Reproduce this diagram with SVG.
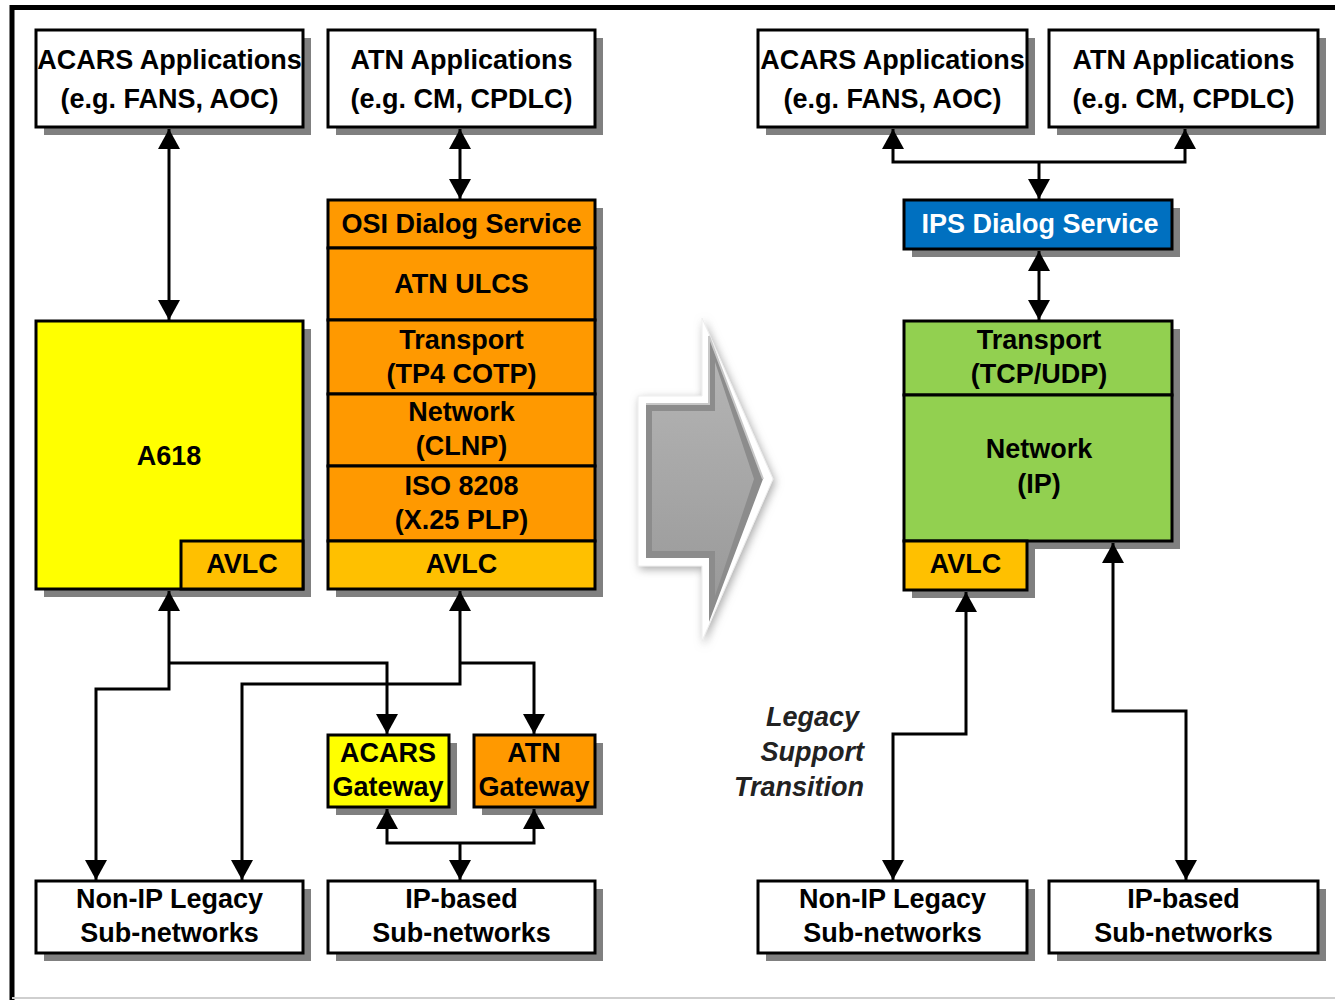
<svg xmlns="http://www.w3.org/2000/svg" width="1335" height="1000" viewBox="0 0 1335 1000">
<defs>
<style>
.sh{fill:#808080}
.bx{stroke:#000;stroke-width:3}
.w{fill:#fff}
.y{fill:#ffff00}
.o{fill:#ff9900}
.a{fill:#ffc000}
.g{fill:#92d050}
.b{fill:#0070c0}
.t{font-family:"Liberation Sans",Arial,sans-serif;font-weight:bold;font-size:27px;text-anchor:middle;fill:#000}
.tw{fill:#fff}
.it{font-family:"Liberation Sans",Arial,sans-serif;font-weight:bold;font-style:italic;font-size:27px;text-anchor:end;fill:#222}
.c{fill:none;stroke:#000;stroke-width:3}
</style>
<marker id="ah" viewBox="0 0 20 22" refX="20" refY="11" markerWidth="20" markerHeight="22" markerUnits="userSpaceOnUse" orient="auto-start-reverse"><path d="M0,0L20,11L0,22z" fill="#000"/></marker>
<filter id="glow" x="-30%" y="-30%" width="160%" height="160%"><feDropShadow dx="2" dy="3" stdDeviation="4" flood-color="#888" flood-opacity="0.7"/></filter>
<linearGradient id="ag" x1="0" y1="0" x2="0" y2="1"><stop offset="0" stop-color="#b4b4b4"/><stop offset="1" stop-color="#9a9a9a"/></linearGradient>
</defs>
<rect width="1335" height="1000" fill="#fff"/>
<path d="M12,1000V7.5H1335" fill="none" stroke="#000" stroke-width="5"/>
<path d="M12,998H1335" fill="none" stroke="#cfcfcf" stroke-width="2"/>

<g id="acars-app-l">
<rect class="sh" x="44" y="38" width="267" height="97"/>
<rect class="bx w" x="36" y="30" width="267" height="97"/>
<text class="t" x="169.5" y="69">ACARS Applications</text>
<text class="t" x="169.5" y="108">(e.g. FANS, AOC)</text>
</g>
<g id="atn-app-l">
<rect class="sh" x="336" y="38" width="267" height="97"/>
<rect class="bx w" x="328" y="30" width="267" height="97"/>
<text class="t" x="461.5" y="69">ATN Applications</text>
<text class="t" x="461.5" y="108">(e.g. CM, CPDLC)</text>
</g>
<g id="a618">
<rect class="sh" x="44" y="329" width="267" height="268"/>
<rect class="bx y" x="36" y="321" width="267" height="268"/>
<text class="t" x="169" y="465">A618</text>
<rect class="bx a" x="181" y="541" width="122" height="48"/>
<text class="t" x="242" y="573">AVLC</text>
</g>
<g id="osi-stack">
<rect class="sh" x="336" y="208" width="267" height="389"/>
<g id="osi-dialog"><rect class="bx o" x="328" y="200" width="267" height="48"/><text class="t" x="461.5" y="233">OSI Dialog Service</text></g>
<g id="atn-ulcs"><rect class="bx o" x="328" y="248" width="267" height="72"/><text class="t" x="461.5" y="293">ATN ULCS</text></g>
<g id="osi-transport"><rect class="bx o" x="328" y="320" width="267" height="74"/><text class="t" x="461.5" y="349">Transport</text><text class="t" x="461.5" y="383">(TP4 COTP)</text></g>
<g id="osi-network"><rect class="bx o" x="328" y="394" width="267" height="72"/><text class="t" x="461.5" y="421">Network</text><text class="t" x="461.5" y="455">(CLNP)</text></g>
<g id="iso8208"><rect class="bx o" x="328" y="466" width="267" height="75"/><text class="t" x="461.5" y="495">ISO 8208</text><text class="t" x="461.5" y="529">(X.25 PLP)</text></g>
<g id="osi-avlc"><rect class="bx a" x="328" y="541" width="267" height="48"/><text class="t" x="461.5" y="573">AVLC</text></g>
</g>
<g id="acars-gw">
<rect class="sh" x="336" y="743" width="121" height="72"/>
<rect class="bx y" x="328" y="735" width="121" height="72"/>
<text class="t" x="388" y="762">ACARS</text>
<text class="t" x="388" y="796">Gateway</text>
</g>
<g id="atn-gw">
<rect class="sh" x="482" y="743" width="121" height="72"/>
<rect class="bx o" x="474" y="735" width="121" height="72"/>
<text class="t" x="534" y="762">ATN</text>
<text class="t" x="534" y="796">Gateway</text>
</g>
<g id="nonip-l">
<rect class="sh" x="44" y="889" width="267" height="72"/>
<rect class="bx w" x="36" y="881" width="267" height="72"/>
<text class="t" x="169.5" y="908">Non-IP Legacy</text>
<text class="t" x="169.5" y="942">Sub-networks</text>
</g>
<g id="ip-l">
<rect class="sh" x="336" y="889" width="267" height="72"/>
<rect class="bx w" x="328" y="881" width="267" height="72"/>
<text class="t" x="461.5" y="908">IP-based</text>
<text class="t" x="461.5" y="942">Sub-networks</text>
</g>

<g id="transition-arrow" filter="url(#glow)">
<polygon points="638,396 702,396 702,318 773,479 702,641 702,566 638,566" fill="#fff" stroke="#eee" stroke-width="1"/>
<polygon points="646,404 709,404 709,336 763,479 709,622 709,558 646,558" fill="#8c8c8c"/>
<polygon points="652,411 715,411 715,362 754,479 715,596 715,551 652,551" fill="url(#ag)"/>
<polyline points="646,404 709,404 709,336 763,479" fill="none" stroke="#c8c8c8" stroke-width="2"/>
</g>

<g id="acars-app-r">
<rect class="sh" x="766" y="38" width="269" height="97"/>
<rect class="bx w" x="758" y="30" width="269" height="97"/>
<text class="t" x="892.5" y="69">ACARS Applications</text>
<text class="t" x="892.5" y="108">(e.g. FANS, AOC)</text>
</g>
<g id="atn-app-r">
<rect class="sh" x="1057" y="38" width="269" height="97"/>
<rect class="bx w" x="1049" y="30" width="269" height="97"/>
<text class="t" x="1183.5" y="69">ATN Applications</text>
<text class="t" x="1183.5" y="108">(e.g. CM, CPDLC)</text>
</g>
<g id="ips-dialog">
<rect class="sh" x="912" y="208" width="268" height="49"/>
<rect class="bx b" x="904" y="200" width="268" height="49"/>
<text class="t tw" x="1040" y="233">IPS Dialog Service</text>
</g>
<g id="ip-stack">
<rect class="sh" x="912" y="329" width="268" height="220"/>
<rect class="sh" x="912" y="549" width="123" height="49"/>
<g id="ip-transport"><rect class="bx g" x="904" y="321" width="268" height="74"/><text class="t" x="1039" y="349">Transport</text><text class="t" x="1039" y="383">(TCP/UDP)</text></g>
<g id="ip-network"><rect class="bx g" x="904" y="395" width="268" height="146"/><text class="t" x="1039" y="458">Network</text><text class="t" x="1039" y="493">(IP)</text></g>
<g id="ip-avlc"><rect class="bx a" x="904" y="541" width="123" height="49"/><text class="t" x="965.5" y="573">AVLC</text></g>
</g>
<g id="nonip-r">
<rect class="sh" x="766" y="889" width="269" height="72"/>
<rect class="bx w" x="758" y="881" width="269" height="72"/>
<text class="t" x="892.5" y="908">Non-IP Legacy</text>
<text class="t" x="892.5" y="942">Sub-networks</text>
</g>
<g id="ip-r">
<rect class="sh" x="1057" y="889" width="269" height="72"/>
<rect class="bx w" x="1049" y="881" width="269" height="72"/>
<text class="t" x="1183.5" y="908">IP-based</text>
<text class="t" x="1183.5" y="942">Sub-networks</text>
</g>
<g id="legacy-label">
<text class="it" x="859" y="726">Legacy</text>
<text class="it" x="864" y="761">Support</text>
<text class="it" x="864" y="796">Transition</text>
</g>

<g id="connectors">
<path class="c" d="M169,129V320" marker-start="url(#ah)" marker-end="url(#ah)"/>
<path class="c" d="M460,129V199" marker-start="url(#ah)" marker-end="url(#ah)"/>
<path class="c" d="M169,591V689H96V880" marker-start="url(#ah)" marker-end="url(#ah)"/>
<path class="c" d="M169,663H387V734" marker-end="url(#ah)"/>
<path class="c" d="M460,591V684H242V880" marker-start="url(#ah)" marker-end="url(#ah)"/>
<path class="c" d="M460,663H534V734" marker-end="url(#ah)"/>
<path class="c" d="M387,809V843H534V809" marker-start="url(#ah)" marker-end="url(#ah)"/>
<path class="c" d="M460,843V880" marker-end="url(#ah)"/>
<path class="c" d="M893,129V162H1185V129" marker-start="url(#ah)" marker-end="url(#ah)"/>
<path class="c" d="M1039,162V199" marker-end="url(#ah)"/>
<path class="c" d="M1039,251V320" marker-start="url(#ah)" marker-end="url(#ah)"/>
<path class="c" d="M966,592V734H893V880" marker-start="url(#ah)" marker-end="url(#ah)"/>
<path class="c" d="M1113,543V711H1186V880" marker-start="url(#ah)" marker-end="url(#ah)"/>
</g>
</svg>
